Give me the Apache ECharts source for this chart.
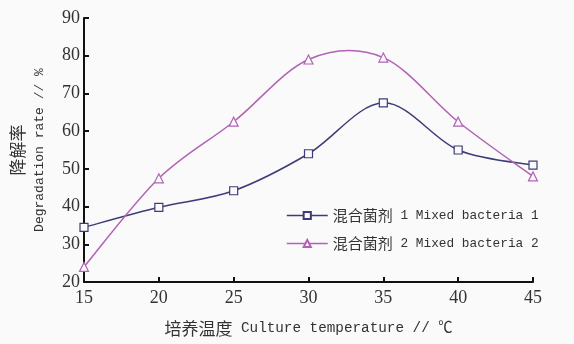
<!DOCTYPE html>
<html><head><meta charset="utf-8">
<script src="https://cdn.jsdelivr.net/npm/echarts@6/dist/echarts.min.js"></script>
<style>html,body{margin:0;padding:0;background:#fafafa}#c{width:574px;height:344px}</style>
</head><body><div id="c"></div>
<script>
const temps = ['15','20','25','30','35','40','45'];
const mix1 = [34.5, 39.8, 44.2, 54.0, 67.5, 55.0, 51.0];
const mix2 = [24.0, 47.5, 62.5, 79.0, 79.5, 62.5, 48.0];
const name1 = '混合菌剂 1 Mixed bacteria 1';
const name2 = '混合菌剂 2 Mixed bacteria 2';
const xNameCn = '培养温度', xNameEn = ' Culture temperature // ℃';
const yNameCn = '降解率', yNameEn = 'Degradation rate // %';

const C1 = '#3d3c78', C2 = '#b262b5';
const serif = 'Liberation Serif';
const mono = 'Liberation Mono, Noto Sans CJK SC';
const cjk = 'Noto Sans CJK SC';

function curveSeries(values, color) {
  return {
    type: 'custom', silent: true, z: 1,
    data: values.map((v, i) => [i, v]),
    encode: {x: 0, y: 1},
    renderItem: function (params, api) {
      if (params.dataIndex !== 0) return null;
      const p = values.map((v, i) => api.coord([i, v]));
      const n = p.length;
      let d = 'M' + p[0][0] + ' ' + p[0][1];
      for (let i = 0; i < n - 1; i++) {
        const p0 = p[Math.max(i - 1, 0)], p1 = p[i], p2 = p[i + 1], p3 = p[Math.min(i + 2, n - 1)];
        const c1x = p1[0] + (p2[0] - p0[0]) / 6, c1y = p1[1] + (p2[1] - p0[1]) / 6;
        const c2x = p2[0] - (p3[0] - p1[0]) / 6, c2y = p2[1] - (p3[1] - p1[1]) / 6;
        d += ' C' + c1x + ' ' + c1y + ' ' + c2x + ' ' + c2y + ' ' + p2[0] + ' ' + p2[1];
      }
      return {type: 'path', shape: {pathData: d}, style: {fill: 'none', stroke: color, lineWidth: 1.5}};
    }
  };
}

const chart = echarts.init(document.getElementById('c'));
chart.setOption({
  backgroundColor: '#fafafa',
  animation: false,
  grid: {left: 84, right: 41, top: 18, bottom: 62, outerBoundsMode: 'none', containLabel: false},
  legend: {
    orient: 'vertical', left: 281, top: 203, itemWidth: 41, itemHeight: 9, itemGap: 13,
    lineStyle: {opacity: 1, width: 1.5},
    formatter: function (name) {
      const k = name.indexOf(' ');
      return '{cn|' + name.slice(0, k) + '}{en|' + name.slice(k) + '}';
    },
    textStyle: {color: '#333', rich: {
      cn: {fontFamily: cjk, fontSize: 15, color: '#333'},
      en: {fontFamily: mono, fontSize: 12.8, color: '#333'}
    }},
    data: [name1, name2]
  },
  xAxis: {
    type: 'category', data: temps, boundaryGap: false,
    name: '{cn|' + xNameCn + '}{en|' + xNameEn + '}', nameLocation: 'middle', nameGap: 38,
    nameTextStyle: {color: '#333', rich: {
      cn: {fontFamily: cjk, fontSize: 17, color: '#333'},
      en: {fontFamily: mono, fontSize: 14.3, color: '#333'}
    }},
    axisLine: {lineStyle: {color: '#111', width: 2}},
    axisTick: {inside: true, length: 5, lineStyle: {color: '#111', width: 2}},
    axisLabel: {fontFamily: serif, fontSize: 18, color: '#333', margin: 7},
    splitLine: {show: false}
  },
  yAxis: {
    type: 'value', min: 20, max: 90, interval: 10,
    name: '{cn|' + yNameCn + '}\n{en|' + yNameEn + '}', nameLocation: 'middle', nameGap: 33, nameRotate: 90,
    nameTextStyle: {color: '#333', rich: {
      cn: {fontFamily: cjk, fontSize: 17, color: '#333', lineHeight: 22},
      en: {fontFamily: mono, fontSize: 13, color: '#333', lineHeight: 22}
    }},
    axisLine: {show: true, lineStyle: {color: '#111', width: 2}},
    axisTick: {show: true, inside: true, length: 5, lineStyle: {color: '#111', width: 2}},
    axisLabel: {fontFamily: serif, fontSize: 18, color: '#333', margin: 4},
    splitLine: {show: false}
  },
  series: [
    curveSeries(mix1, C1),
    curveSeries(mix2, C2),
    {name: name1, type: 'line', data: mix1, symbol: 'rect', symbolSize: 8, z: 3,
     color: C1, lineStyle: {width: 1.5, color: C1, opacity: 0},
     itemStyle: {color: '#fafafa', borderColor: C1, borderWidth: 1.2}},
    {name: name2, type: 'line', data: mix2, symbol: 'triangle', symbolSize: 9, z: 3,
     color: C2, lineStyle: {width: 1.5, color: C2, opacity: 0},
     itemStyle: {color: '#fafafa', borderColor: C2, borderWidth: 1.2}}
  ]
});
</script></body></html>
